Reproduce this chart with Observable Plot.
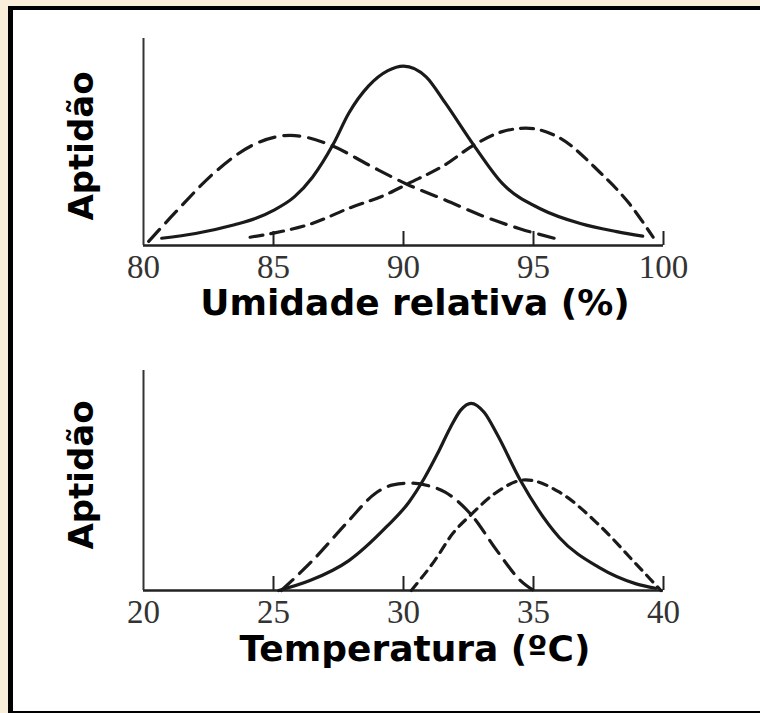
<!DOCTYPE html>
<html><head><meta charset="utf-8">
<script src="https://cdn.jsdelivr.net/npm/d3@7"></script>
<script src="https://cdn.jsdelivr.net/npm/@observablehq/plot@0.6"></script>
<style>
html,body{margin:0;padding:0;width:760px;height:713px;overflow:hidden;background:#F9EEDA;position:relative;}
#frame{position:absolute;left:8px;top:6px;width:800px;height:709px;box-sizing:border-box;border-top:4px solid #000;border-left:5px solid #000;border-bottom:4px solid #000;background:#fff;}
.chart{position:absolute;left:0;}
.ylab{position:absolute;font:bold 34px "DejaVu Sans";color:#000;white-space:nowrap;transform:translate(-50%,-50%) rotate(-90deg);}
.xlab{position:absolute;font:bold 36px "DejaVu Sans";color:#000;white-space:nowrap;transform:translate(-50%,-50%);line-height:1;}
</style></head>
<body>
<div id="frame"></div>
<div id="c1" class="chart" style="top:0px"></div>
<div id="c2" class="chart" style="top:330px"></div>
<div class="ylab" style="left:81px;top:146px">Aptidão</div>
<div class="ylab" style="left:81px;top:475px">Aptidão</div>
<div class="xlab" style="left:415px;top:303px">Umidade relativa (%)</div>
<div class="xlab" style="left:415px;top:649px">Temperatura (ºC)</div>
<script>
// Tick labels
const umidTicks = [80, 85, 90, 95, 100];
const tempTicks = [20, 25, 30, 35, 40];

// Umidade relativa (%) — aptidão
const umidSolidX = [80.7, 82, 83.5, 84.3, 85, 85.8, 86.5, 87.3, 87.9, 88.65, 89.4, 90, 90.87, 91.6, 92.7, 93.8, 95.3, 96.8, 98.2, 99.2];
const umidSolidY = [0.035, 0.058, 0.1, 0.13, 0.17, 0.235, 0.33, 0.49, 0.64, 0.77, 0.845, 0.867, 0.815, 0.69, 0.485, 0.3, 0.175, 0.106, 0.067, 0.045];
const umidLeftX = [80.2, 81.3, 82.8, 84.2, 85.65, 87.2, 88.65, 90.13, 91.6, 93.1, 94.5, 95.8];
const umidLeftY = [0.02, 0.17, 0.36, 0.485, 0.532, 0.485, 0.39, 0.296, 0.22, 0.14, 0.08, 0.035];
const umidRightX = [84.1, 85, 86.45, 87.9, 89.4, 90.13, 91.6, 92.7, 93.8, 94.7, 96, 97.5, 98.7, 99.6];
const umidRightY = [0.04, 0.06, 0.105, 0.18, 0.25, 0.296, 0.39, 0.485, 0.55, 0.567, 0.52, 0.36, 0.2, 0.04];

// Temperatura (ºC) — aptidão
const tempSolidX = [25.2, 26.4, 27.9, 29.35, 30.2, 30.8, 31.3, 31.8, 32.2, 32.6, 33.1, 33.6, 34.5, 36.0, 37.5, 38.95, 39.7];
const tempSolidY = [0.0, 0.045, 0.136, 0.29, 0.40, 0.51, 0.62, 0.74, 0.82, 0.851, 0.81, 0.71, 0.50, 0.24, 0.106, 0.03, 0.01];
const tempLeftX = [25.3, 26.5, 27.9, 28.9, 29.6, 30.3, 31.0, 31.6, 32.6, 33.6, 34.5, 35.0];
const tempLeftY = [0, 0.136, 0.318, 0.44, 0.48, 0.488, 0.475, 0.447, 0.345, 0.18, 0.045, 0];
const tempRightX = [30.3, 31.2, 31.9, 32.6, 33.5, 34.7, 36.0, 37.5, 38.95, 39.9];
const tempRightY = [0, 0.136, 0.26, 0.345, 0.44, 0.503, 0.447, 0.30, 0.12, 0];

const pairs = (xs, ys) => xs.map((x, i) => ({x, y: ys[i]}));

function chart({ticks, lines, height, marginTop, marginBottom}) {
  const innerH = height - marginTop - marginBottom;
  const domain = [ticks[0], ticks[ticks.length - 1]];
  return Plot.plot({
    width: 760, height,
    marginLeft: 143, marginRight: 97, marginTop, marginBottom,
    style: {background: "transparent", overflow: "visible"},
    x: {domain},
    y: {domain: [0, 1], axis: null},
    marks: [
      Plot.ruleY([0], {stroke: "#222", strokeWidth: 2.5}),
      Plot.ruleX([domain[0]], {stroke: "#333", strokeWidth: 2}),
      Plot.tickX(ticks.slice(1), {x: d => d, stroke: "#222", strokeWidth: 2, insetTop: innerH - 14}),
      Plot.axisX(ticks, {tickSize: 0, tickPadding: 9, fontSize: 33, fontFamily: "Liberation Serif", fill: "#333", label: null}),
      ...lines.map(l => Plot.line(l.data, {x: "x", y: "y", curve: "monotone-x", stroke: "#1a1a1a", strokeWidth: 3.2, strokeDasharray: l.dash}))
    ]
  });
}

document.getElementById("c1").append(chart({
  ticks: umidTicks, height: 285, marginTop: 38, marginBottom: 40,
  lines: [
    {data: pairs(umidSolidX, umidSolidY), dash: null},
    {data: pairs(umidLeftX, umidLeftY), dash: "16,9"},
    {data: pairs(umidRightX, umidRightY), dash: "13,8"}
  ]
}));
document.getElementById("c2").append(chart({
  ticks: tempTicks, height: 300, marginTop: 40, marginBottom: 40,
  lines: [
    {data: pairs(tempSolidX, tempSolidY), dash: null},
    {data: pairs(tempLeftX, tempLeftY), dash: "16,9"},
    {data: pairs(tempRightX, tempRightY), dash: "9,7"}
  ]
}));
</script>
</body></html>
